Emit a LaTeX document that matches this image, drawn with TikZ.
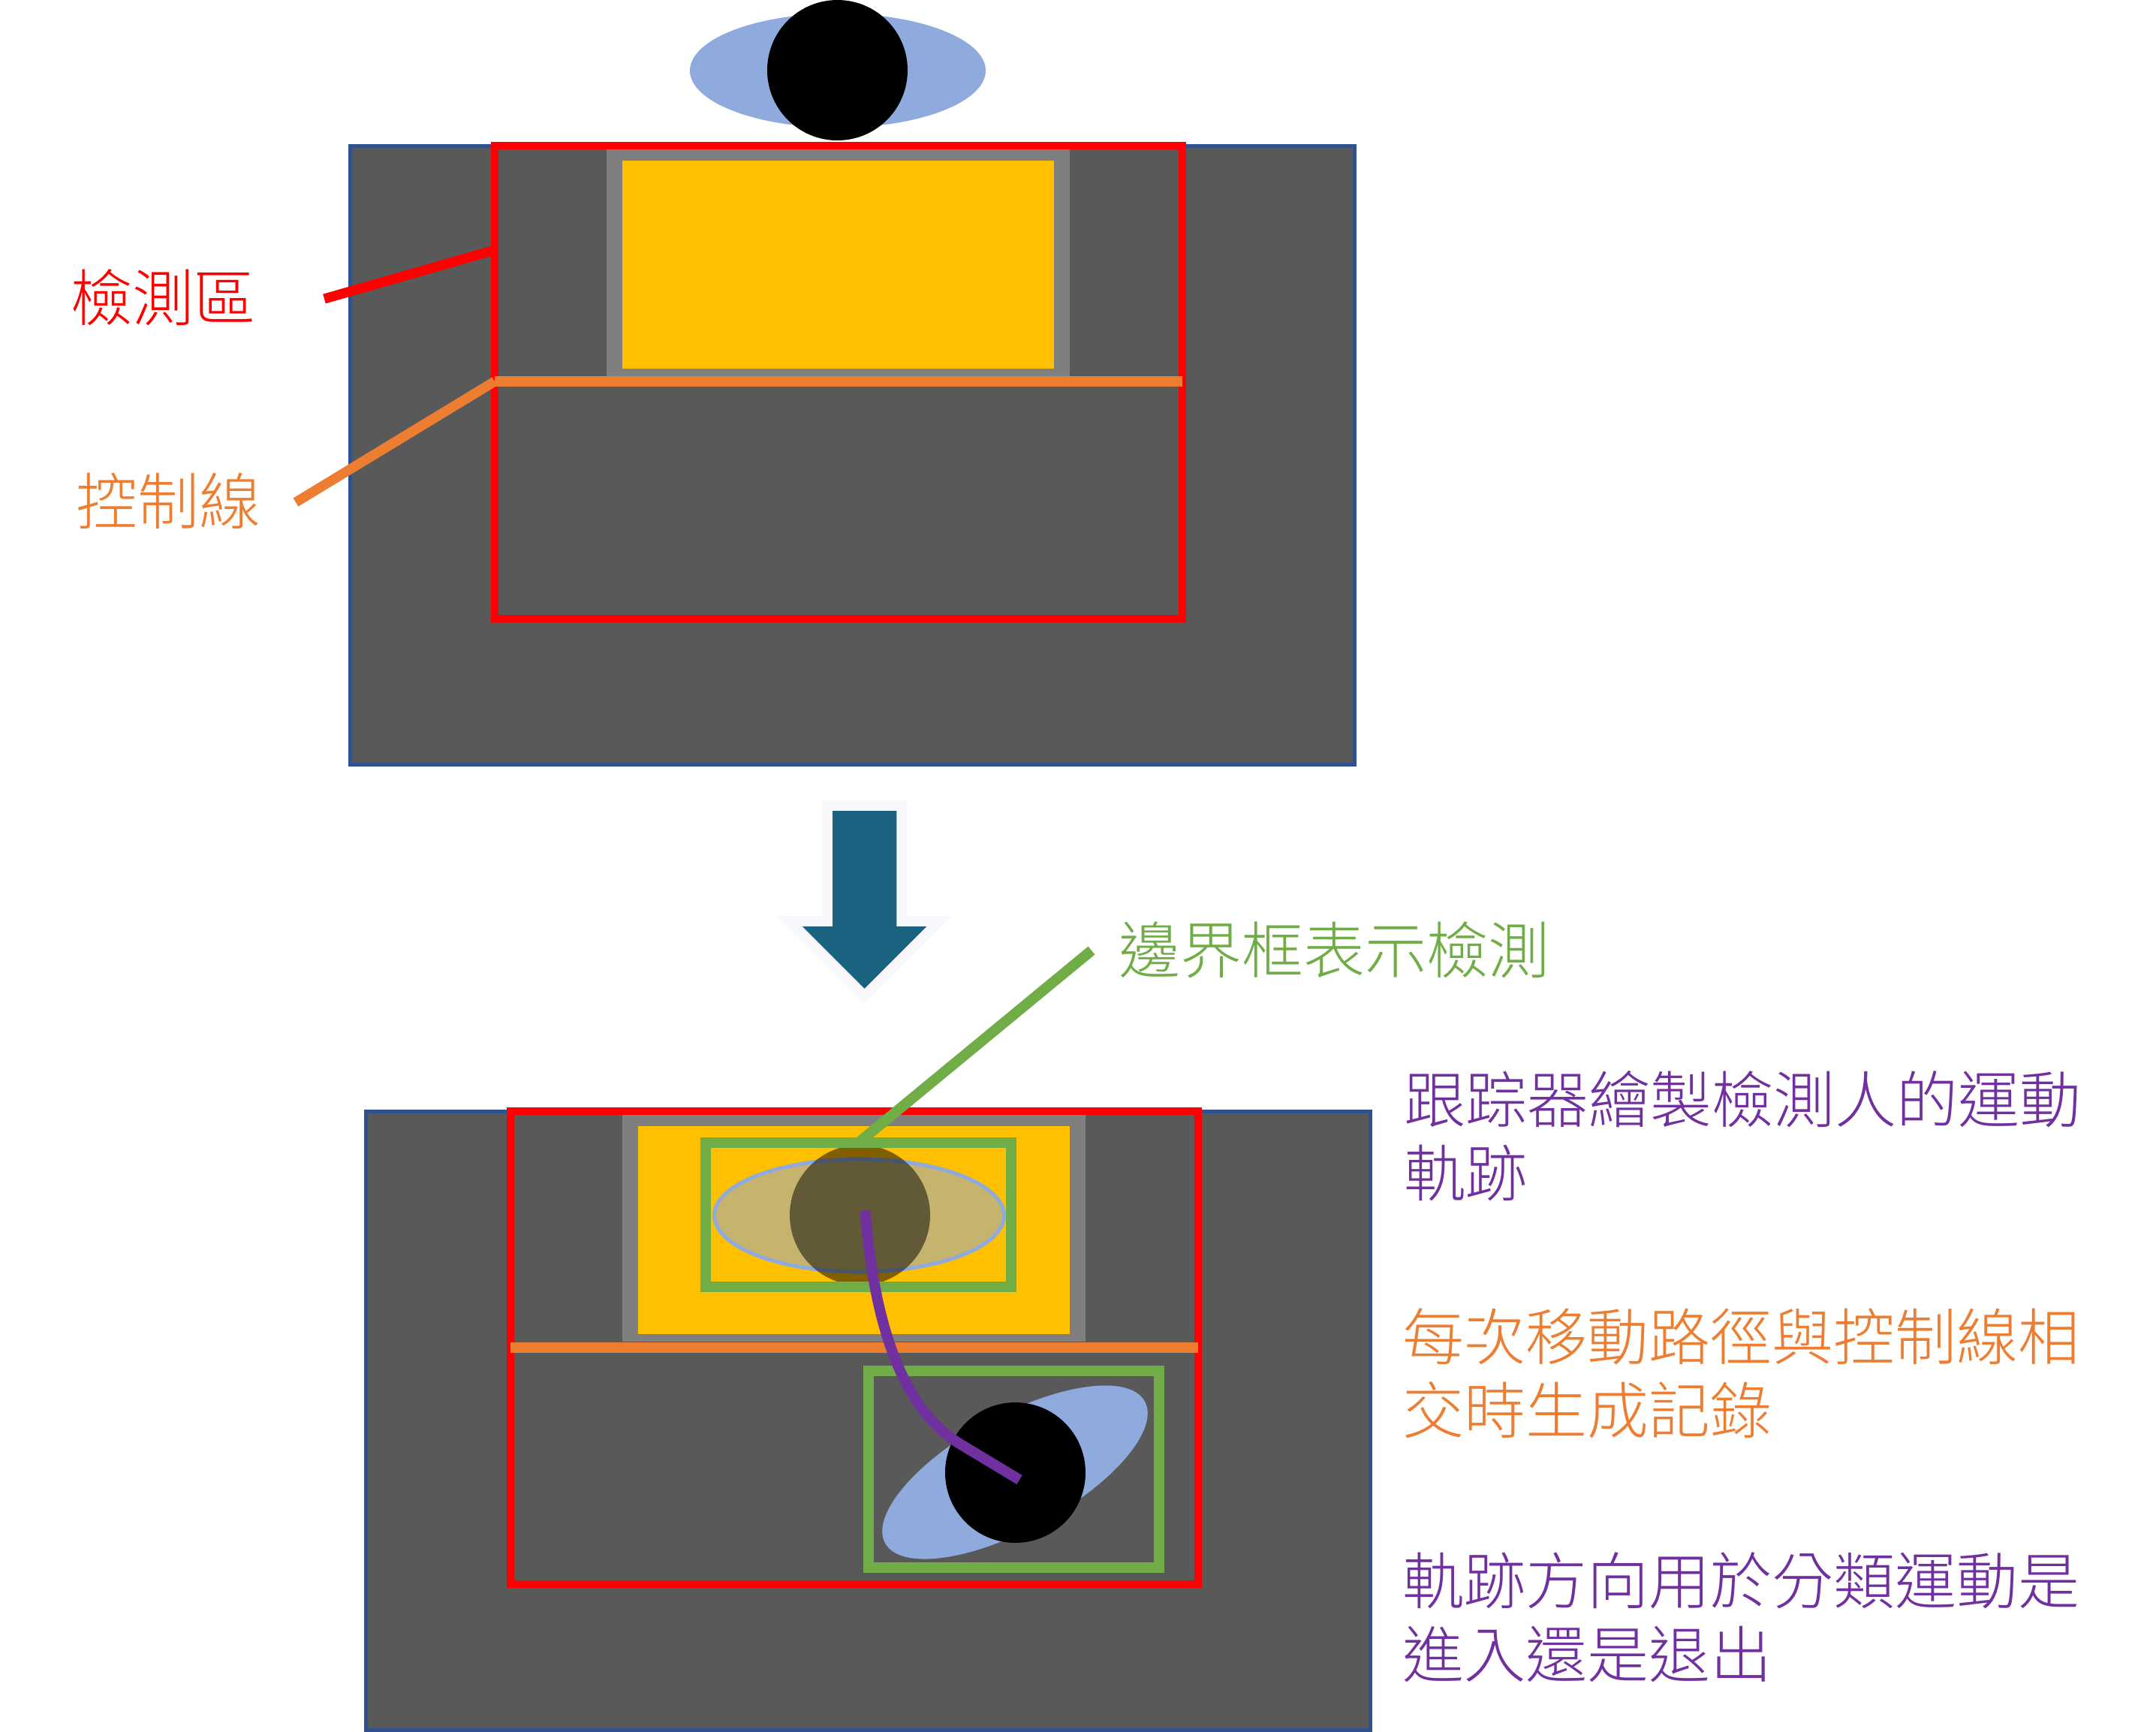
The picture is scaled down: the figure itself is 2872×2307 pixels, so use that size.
\documentclass[tikz,border=0pt]{standalone}
\usepackage{fontspec}
\usetikzlibrary{shapes.geometric}
\setmainfont{Noto Sans CJK TC Light}
\definecolor{cGround}{HTML}{595959}
\definecolor{cEdge}{HTML}{2F528F}
\definecolor{cDoor}{HTML}{7F7F7F}
\definecolor{cGlass}{HTML}{FFC000}
\definecolor{cOrange}{HTML}{ED7D31}
\definecolor{cGreen}{HTML}{70AD47}
\definecolor{cPurple}{HTML}{7030A0}
\definecolor{cBody}{HTML}{8FAADC}
\definecolor{cArrow}{HTML}{1B6280}
\definecolor{cHalo}{HTML}{F6F8FC}
\tikzset{
  box/.style args={#1x#2}{rectangle,inner sep=0pt,outer sep=0pt,minimum width=#1pt,minimum height=#2pt},
  ground/.style={draw=cEdge,fill=cGround,line width=5pt},
  door/.style={fill=cDoor},
  glass/.style={fill=cGlass},
  zone/.style={draw=red,line width=10pt},
  bbox/.style={draw=cGreen,line width=14pt},
  ctrl/.style={draw=cOrange,line width=14pt},
  leader/.style={line width=13pt},
  body/.style={ellipse,inner sep=0pt,outer sep=0pt,minimum width=394pt,minimum height=152pt},
  head/.style={ellipse,inner sep=0pt,outer sep=0pt,minimum width=187pt,minimum height=187pt},
  lbl/.style={inner sep=0pt,outer sep=0pt,anchor=west,align=left,font=\fontsize{82}{98}\selectfont},
}
\begin{document}
\begin{tikzpicture}[x=1pt,y=-1pt]
\useasboundingbox (0,0) rectangle (2872,2307);
% upper scene
\node[box=1338x824,ground] (g1) at (1135,606) {};
\node[box=617x307,door] (d1) at (1116.5,347.5) {};
\node[box=575x277,glass] (y1) at (1116.5,352) {};
\node[body,fill=cBody] (b1) at (1116,94) {};
\node[head,fill=black] (h1) at (1115.5,93.5) {};
\node[box=916x630,zone] (z1) at (1117,509) {};
\coordinate (c1l) at (659,508);
\coordinate (c1r) at (1575,508);
\draw[ctrl] (c1l) -- (c1r);
% labels upper
\node[lbl,text=red] (t1) at (94,396) {檢測區};
\node[lbl,text=cOrange] (t2) at (101,667) {控制線};
\coordinate (r1) at (432,398);
\coordinate (r2) at (659,333);
\draw[draw=red,leader] (r1) -- (r2);
\coordinate (o1) at (394,669);
\draw[draw=cOrange,leader] (o1) -- (c1l);
% arrow
\path[fill=cArrow,preaction={draw=cHalo,line width=28pt}]
  (1109,1080) -- (1194.3,1080) -- (1194.3,1234) -- (1234.3,1234) -- (1151.7,1316.7) -- (1069,1234) -- (1109,1234) -- cycle;
% lower scene
\node[box=1338x824,ground] (g2) at (1156,1892) {};
\node[box=617x307,door] (d2) at (1137.5,1633.5) {};
\node[box=575x277,glass] (y2) at (1137.5,1638.5) {};
\node[ellipse,inner sep=0pt,outer sep=0pt,minimum width=386pt,minimum height=150pt,fill=cBody,fill opacity=.5,draw=cBody,line width=5pt] (b2) at (1144.5,1619) {};
\node[head,fill=black,fill opacity=.5] (h2) at (1145.5,1618.5) {};
\node[box=407x192,bbox] (bb1) at (1143.5,1618) {};
\node[box=916x630,zone] (z2) at (1138,1795) {};
\coordinate (c2l) at (680,1795);
\coordinate (c2r) at (1596,1795);
\draw[ctrl] (c2l) -- (c2r);
\node[box=387x262,bbox] (bb2) at (1350.5,1957) {};
\node[body,fill=cBody,rotate=28.6] (b3) at (1352,1961) {};
\node[head,fill=black] (h3) at (1352.5,1961.5) {};
\coordinate (p1) at (1152.5,1612.6);
\coordinate (p2) at (1358,1971);
\draw[draw=cPurple,line width=14pt] (p1) .. controls (1161,1720) and (1186,1868) .. (1280,1924) -- (p2);
\coordinate (gl) at (1454,1266);
\draw[draw=cGreen,line width=14pt] (gl) -- (bb1.north);
% labels lower
\node[lbl,text=cGreen] (t3) at (1490,1265) {邊界框表示檢測};
\node[lbl,text=cPurple] (t4) at (1870,1513) {跟踪器繪製檢測人的運動\\軌跡};
\node[lbl,text=cOrange] (t5) at (1868,1829) {每次移動路徑與控制線相\\交時生成記錄};
\node[lbl,text=cPurple] (t6) at (1868,2154) {軌跡方向用於分類運動是\\進入還是退出};
\end{tikzpicture}
\end{document}
